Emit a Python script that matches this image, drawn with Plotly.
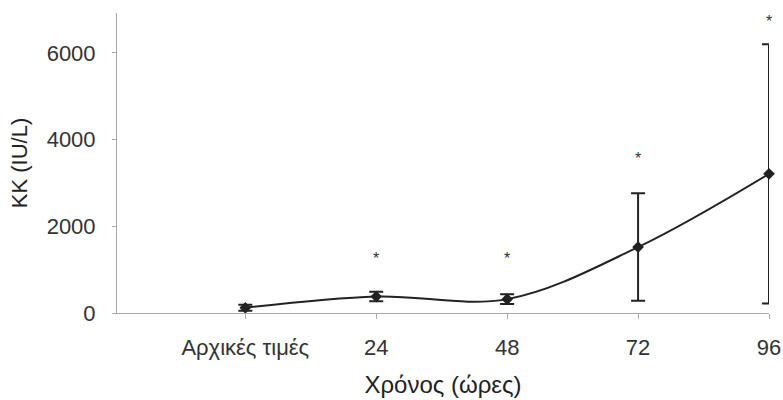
import plotly.graph_objects as go

categories = ["Αρχικές τιμές", "24", "48", "72", "96"]
means = [120, 380, 320, 1520, 3210]
sd = [70, 110, 110, 1240, 2990]
star_y = [None, 1220, 1220, 3540, 6680]
star_text = ["", "*", "*", "*", "*"]

fig = go.Figure()
fig.add_trace(go.Scatter(
    x=categories, y=means, mode="lines+markers",
    line=dict(color="#222", width=2, shape="spline", smoothing=1.0),
    marker=dict(symbol="diamond", size=9, color="#222"),
    error_y=dict(type="data", array=sd, visible=True, color="#222", thickness=2, width=7),
    showlegend=False, cliponaxis=False,
))
fig.add_trace(go.Scatter(
    x=categories, y=star_y, mode="text", text=star_text,
    textfont=dict(size=16, color="#333", family="Liberation Sans"),
    textposition="middle center", showlegend=False, cliponaxis=False,
))

fig.update_layout(
    width=783, height=400,
    margin=dict(l=117, r=14, t=13, b=87),
    paper_bgcolor="white", plot_bgcolor="white",
    font=dict(family="Liberation Sans", size=22, color="#333"),
    xaxis=dict(
        type="category", range=[-0.98, 4.0], automargin=False,
        showline=True, linecolor="#aaa", linewidth=1,
        ticks="outside", ticklen=5, tickcolor="#aaa",
        ticklabelstandoff=10,
        showgrid=False, zeroline=False,
        title=dict(text="Χρόνος (ώρες)", font=dict(size=24, color="#222"), standoff=16),
    ),
    yaxis=dict(
        range=[0, 6920], tickvals=[0, 2000, 4000, 6000], automargin=False,
        showline=True, linecolor="#aaa", linewidth=1,
        ticks="outside", ticklen=4, tickcolor="#aaa",
        ticklabelstandoff=12,
        showgrid=False, zeroline=False,
        title=dict(text="ΚΚ (IU/L)", font=dict(size=22, color="#222"), standoff=12),
    ),
)

fig.write_html("out.html")
